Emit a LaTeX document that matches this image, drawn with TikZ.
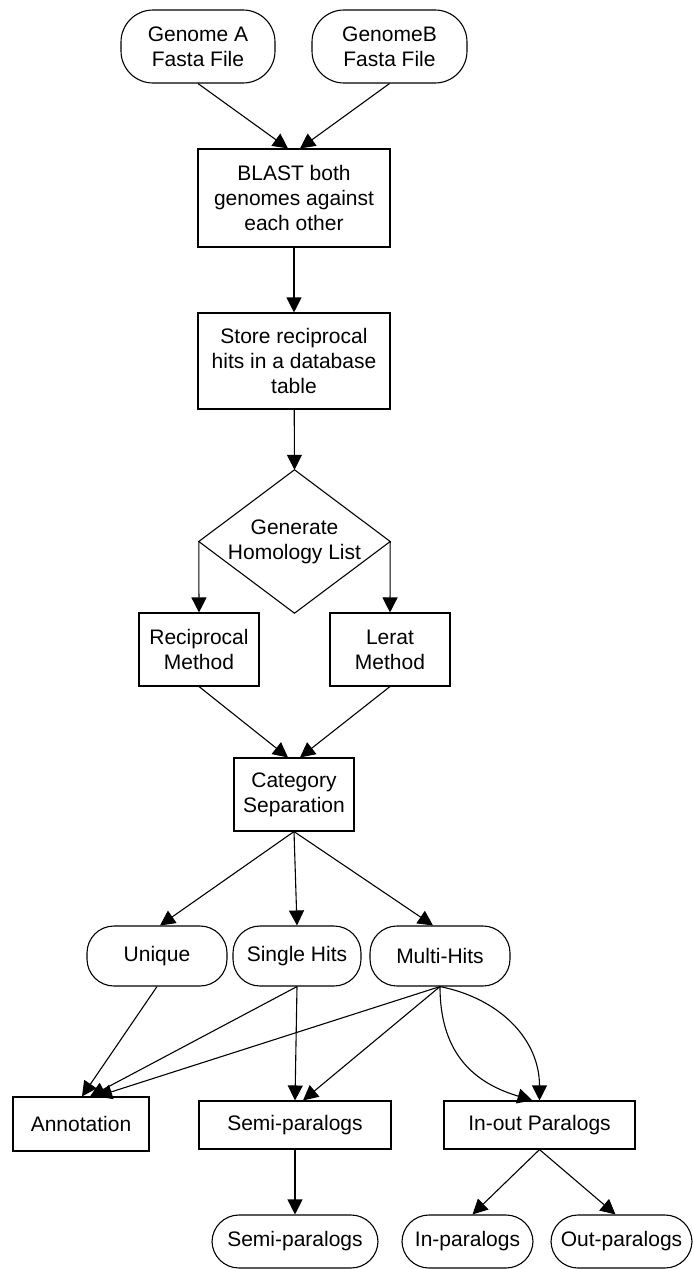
\documentclass[tikz,border=0pt]{standalone}
\usepackage{fontspec}
\setmainfont{Liberation Sans}
\usetikzlibrary{arrows.meta}

\tikzset{
  base/.style={draw=black, line width=1.1pt, inner sep=0pt, align=center,
    font=\fontsize{21}{25}\selectfont},
  procbox/.style={base, rectangle},
  terminal/.style={base, rectangle, rounded corners=27pt},
  hidden/.style={inner sep=0pt, align=center, font=\fontsize{21}{25}\selectfont},
  flow/.style={line width=1.1pt, -{Triangle[length=15pt,width=15pt]}},
}

\begin{document}
\begin{tikzpicture}[x=1pt,y=-1pt]
\useasboundingbox (0,0) rectangle (693,1269);

% inputs
\node[terminal, rounded corners=32pt, minimum width=154pt, minimum height=73pt] (ga) at (198,46.5) {Genome A\\Fasta File};
\node[terminal, rounded corners=32pt, minimum width=155pt, minimum height=73pt] (gb) at (389.5,46.5) {GenomeB\\Fasta File};

% main pipeline
\node[procbox, minimum width=192pt, minimum height=98pt] (blast) at (294,198) {BLAST both\\genomes against\\each other};
\node[procbox, minimum width=192pt, minimum height=96pt] (store) at (294,361) {Store reciprocal\\hits in a database\\table};

% decision
\node[hidden, minimum width=191pt, minimum height=143pt] (dia) at (294.5,541.5) {Generate\\Homology List};
\draw[line width=1.1pt] (dia.north) -- (dia.east) -- (dia.south) -- (dia.west) -- cycle;

\node[procbox, minimum width=120pt, minimum height=73pt] (rec) at (199,649.5) {Reciprocal\\Method};
\node[procbox, minimum width=120pt, minimum height=73pt] (lerat) at (390,649.5) {Lerat\\Method};

\node[procbox, minimum width=120pt, minimum height=73pt] (cat) at (294,794.5) {Category\\Separation};

% categories
\node[terminal, minimum width=140pt, minimum height=60pt] (uniq) at (157,956) {Unique};
\node[terminal, minimum width=128pt, minimum height=60pt] (single) at (297,956) {Single Hits};
\node[terminal, minimum width=140pt, minimum height=60pt] (multi) at (440,956) {Multi-Hits};

% classification
\node[procbox, minimum width=136pt, minimum height=54pt] (annot) at (81,1124) {Annotation};
\node[procbox, minimum width=192pt, minimum height=48pt] (semibox) at (295,1125) {Semi-paralogs};
\node[procbox, minimum width=191pt, minimum height=48pt] (inout) at (539.5,1125) {In-out Paralogs};

% results
\node[terminal, minimum width=166pt, minimum height=53pt] (semi) at (295,1241.5) {Semi-paralogs};
\node[terminal, minimum width=131pt, minimum height=53pt] (inpar) at (467.5,1241.5) {In-paralogs};
\node[terminal, minimum width=141pt, minimum height=53pt] (outpar) at (621.5,1241.5) {Out-paralogs};

% connectors
\draw[flow] (ga.south) -- ([xshift=-6pt]blast.north);
\draw[flow] (gb.south) -- ([xshift=6pt]blast.north);
\draw[flow] (blast) -- (store);
\draw[flow] (store) -- (dia.north);
\draw[flow] (dia.west) -- (rec.north);
\draw[flow] (dia.east) -- (lerat.north);
\draw[flow] (rec.south) -- ([xshift=-6pt]cat.north);
\draw[flow] (lerat.south) -- ([xshift=6pt]cat.north);
\draw[flow] (cat.south) -- ([xshift=3pt]uniq.north);
\draw[flow] (cat.south) -- (single.north);
\draw[flow] (cat.south) -- ([xshift=-7pt]multi.north);

\draw[flow] (uniq.south) -- ([xshift=1pt]annot.north);
\draw[flow] (single.south) -- ([xshift=9pt]annot.north);
\draw[flow] (multi.south) -- ([xshift=16pt]annot.north);
\draw[flow] (single.south) -- ([xshift=0pt]semibox.north);
\draw[flow] (multi.south) -- ([xshift=8pt]semibox.north);
\draw[flow] (multi.south) .. controls +(0,72) and +(-53,-16) .. ([xshift=-7pt]inout.north);
\draw[flow] (multi.south) .. controls +(60,12) and +(0,-61) .. (inout.north);

\draw[flow] (semibox) -- (semi);
\draw[flow] (inout.south) -- ([xshift=5pt]inpar.north);
\draw[flow] (inout.south) -- ([xshift=-6pt]outpar.north);
\end{tikzpicture}
\end{document}
